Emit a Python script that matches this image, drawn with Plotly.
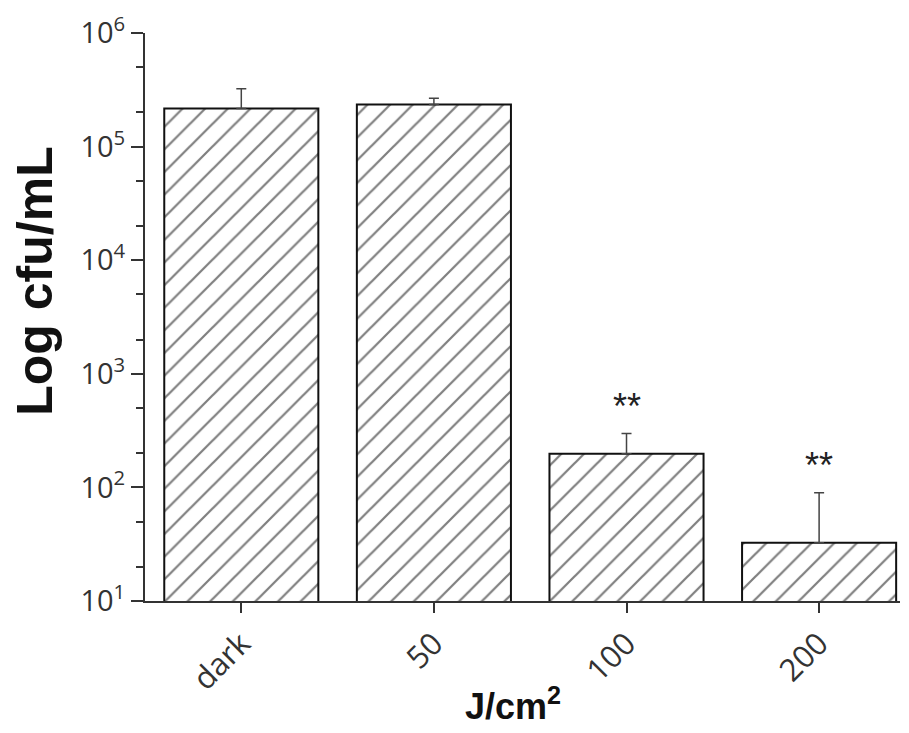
import math
import plotly.graph_objects as go

categories = ["dark", "50", "100", "200"]
values = [2.17e5, 2.35e5, 198, 32.5]
errors_up = [1.06e5, 0.32e5, 100, 57]
significance = ["", "", "**", "**"]
tick_vals = [10, 100, 1000, 10000, 100000, 1000000]
tick_text = ["10<sup>1</sup>", "10<sup>2</sup>", "10<sup>3</sup>", "10<sup>4</sup>", "10<sup>5</sup>", "10<sup>6</sup>"]

fig = go.Figure()
fig.add_trace(go.Bar(
    x=categories, y=values, width=0.8,
    marker=dict(color="white", line=dict(color="#111", width=2),
                pattern=dict(shape="/", fgcolor="#000", bgcolor="white", size=16, solidity=0.14)),
    error_y=dict(type="data", symmetric=False, array=errors_up, arrayminus=[0]*len(values),
                 color="#444", thickness=1.5, width=5),
    showlegend=False,
))

for i, (v, e, s) in enumerate(zip(values, errors_up, significance)):
    if s:
        fig.add_annotation(x=i, y=math.log10(v + e), text=s, showarrow=False,
                           yanchor="bottom", yshift=5,
                           font=dict(family="Liberation Sans, Arial", size=36, color="#222"))

fig.add_annotation(xref="paper", yref="paper", x=0.487, y=-0.182, text="<b>J/cm<sup>2</sup></b>",
                   showarrow=False, font=dict(family="Liberation Sans, Arial", size=36, color="#111"),
                   xanchor="center", yanchor="middle", borderpad=0)
fig.add_annotation(xref="paper", yref="paper", x=-0.145, y=0.563, text="<b>Log cfu/mL</b>",
                   showarrow=False, font=dict(family="Liberation Sans, Arial", size=50, color="#111"),
                   textangle=-90, xanchor="center", yanchor="middle")

# page body has an 8px default margin, so the figure is drawn 8px smaller
fig.update_layout(
    width=901, height=725,
    margin=dict(l=137, r=9, t=25, b=132),
    plot_bgcolor="white", paper_bgcolor="white",
    bargap=0.2,
)
fig.update_xaxes(
    range=[-0.5, 3.42], showline=True, linecolor="#333", linewidth=2, automargin=False,
    ticks="outside", ticklen=10, tickwidth=1.5, tickcolor="#333",
    tickangle=-45, tickfont=dict(family="Open Sans", size=31, color="#333"),
)
fig.update_yaxes(
    type="log", range=[1, 6], showline=True, linecolor="#333", linewidth=2, automargin=False,
    tickvals=tick_vals, ticktext=tick_text,
    ticks="outside", ticklen=12, tickwidth=1.5, tickcolor="#333",
    tickfont=dict(family="Open Sans", size=29, color="#333"),
    minor=dict(ticks="outside", ticklen=7, tickwidth=1.5, tickcolor="#333", showgrid=False),
    showgrid=False, zeroline=False,
)

fig.write_html("out.html")
